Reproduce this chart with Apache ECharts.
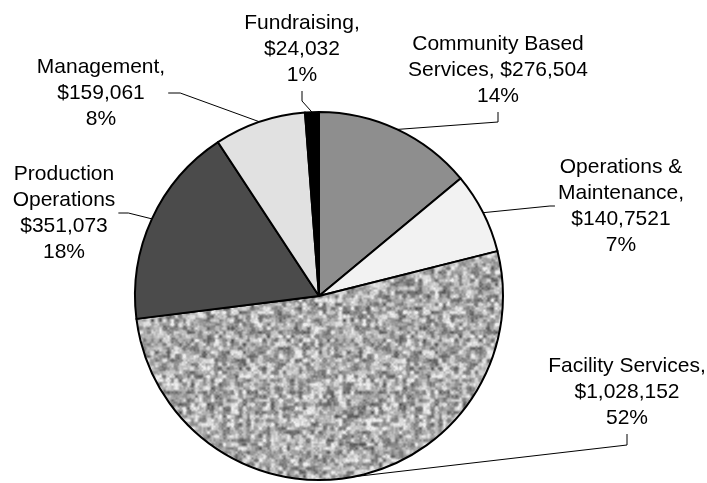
<!DOCTYPE html>
<html><head><meta charset="utf-8">
<script src="https://cdn.jsdelivr.net/npm/echarts@6/dist/echarts.min.js"></script>
<style>html,body{margin:0;padding:0;background:#fff}#c{width:707px;height:483px}</style>
</head><body><div id="c"></div>
<script>
// ---- data ----
const categories = ['Community Based Services', 'Operations & Maintenance', 'Facility Services', 'Production Operations', 'Management', 'Fundraising'];
const values = [276504, 140752, 1028152, 351073, 159061, 24032];
const nameLines = ['Community Based\nServices,', 'Operations &\nMaintenance,', 'Facility Services,', 'Production\nOperations', 'Management,', 'Fundraising,'];
const amountLabels = ['$276,504', '$140,7521', '$1,028,152', '$351,073', '$159,061', '$24,032'];
const amountSameLine = [true, false, false, false, false, false];

// ---- styles ----
function makeTexture() {
  const N = 48, S = 4, W = N * S;
  let seed = 987654321;
  function rnd() { seed = (seed * 1664525 + 1013904223) >>> 0; return seed / 4294967296; }
  const g = []; for (let i = 0; i < N * N; i++) g.push(rnd());
  const M = N * 2;
  const g2 = []; for (let i = 0; i < M * M; i++) g2.push(rnd());
  const c = document.createElement('canvas'); c.width = W; c.height = W;
  const ctx = c.getContext('2d');
  const img = ctx.createImageData(W, W);
  function sample(grid, n, fx, fy) {
    const x0 = Math.floor(fx), y0 = Math.floor(fy);
    let tx = fx - x0, ty = fy - y0;
    tx = tx * tx * (3 - 2 * tx); ty = ty * ty * (3 - 2 * ty);
    const xa = x0 % n, ya = y0 % n, x1 = (x0 + 1) % n, y1 = (y0 + 1) % n;
    const a = grid[ya * n + xa], b = grid[ya * n + x1], cc = grid[y1 * n + xa], d = grid[y1 * n + x1];
    return (a * (1 - tx) + b * tx) * (1 - ty) + (cc * (1 - tx) + d * tx) * ty;
  }
  for (let y = 0; y < W; y++) {
    for (let x = 0; x < W; x++) {
      const v = sample(g, N, x / S, y / S);
      const v2 = sample(g2, M, x / 2, y / 2);
      let val = 170 + (v - 0.5) * 140 + (v2 - 0.5) * 45;
      val = Math.max(60, Math.min(238, val));
      const k = (y * W + x) * 4;
      img.data[k] = img.data[k + 1] = img.data[k + 2] = val; img.data[k + 3] = 255;
    }
  }
  ctx.putImageData(img, 0, 0);
  return c;
}
const texture = makeTexture();
const sliceColors = ['#8e8e8e', '#f2f2f2', { image: texture, repeat: 'repeat' }, '#4b4b4b', '#e1e1e1', '#000000'];
// label placement: [centerX, centerY, attach side, stub length]
const labelPlace = [[498, 70, 'bottom', 10], [621, 206, 'left', 5], [627, 392, 'bottom', 11], [64, 213, 'right', 10], [101, 93, 'right', 12], [302, 49, 'bottom', 10]];

const chart = echarts.init(document.getElementById('c'), null, { renderer: 'canvas' });
chart.setOption({
  animation: false,
  backgroundColor: '#fff',
  series: [{
    type: 'pie',
    center: [319, 296],
    radius: 184,
    startAngle: 90,
    clockwise: true,
    avoidLabelOverlap: false,
    data: categories.map((n, i) => ({ name: n, value: values[i], itemStyle: { color: sliceColors[i] } })),
    itemStyle: { borderColor: '#000', borderWidth: 2 },
    emphasis: { disabled: true },
    label: {
      show: true,
      position: 'outside',
      color: '#000',
      fontFamily: 'Liberation Sans, Arial, sans-serif',
      fontSize: 21,
      lineHeight: 26,
      align: 'center',
      formatter: p => nameLines[p.dataIndex] + (amountSameLine[p.dataIndex] ? ' ' : '\n') + amountLabels[p.dataIndex] + '\n' + Math.round(p.percent) + '%'
    },
    labelLine: { show: true, length: 10, length2: 10, lineStyle: { color: '#000', width: 1 } },
    labelLayout: function (p) {
      const L = labelPlace[p.dataIndex];
      const w = p.labelRect.width, h = p.labelRect.height;
      const cx = L[0], cy = L[1], gap = 3, stub = L[3];
      let a, b;
      if (L[2] === 'bottom') { a = [cx, cy + h / 2 + gap]; b = [cx, cy + h / 2 + gap + stub]; }
      else if (L[2] === 'left') { a = [cx - w / 2 - gap, cy]; b = [cx - w / 2 - gap - stub, cy]; }
      else { a = [cx + w / 2 + gap, cy]; b = [cx + w / 2 + gap + stub, cy]; }
      const start = p.labelLinePoints[0];
      return { x: cx, y: cy, align: 'center', verticalAlign: 'middle', labelLinePoints: [start, b, a] };
    }
  }]
});
</script></body></html>
